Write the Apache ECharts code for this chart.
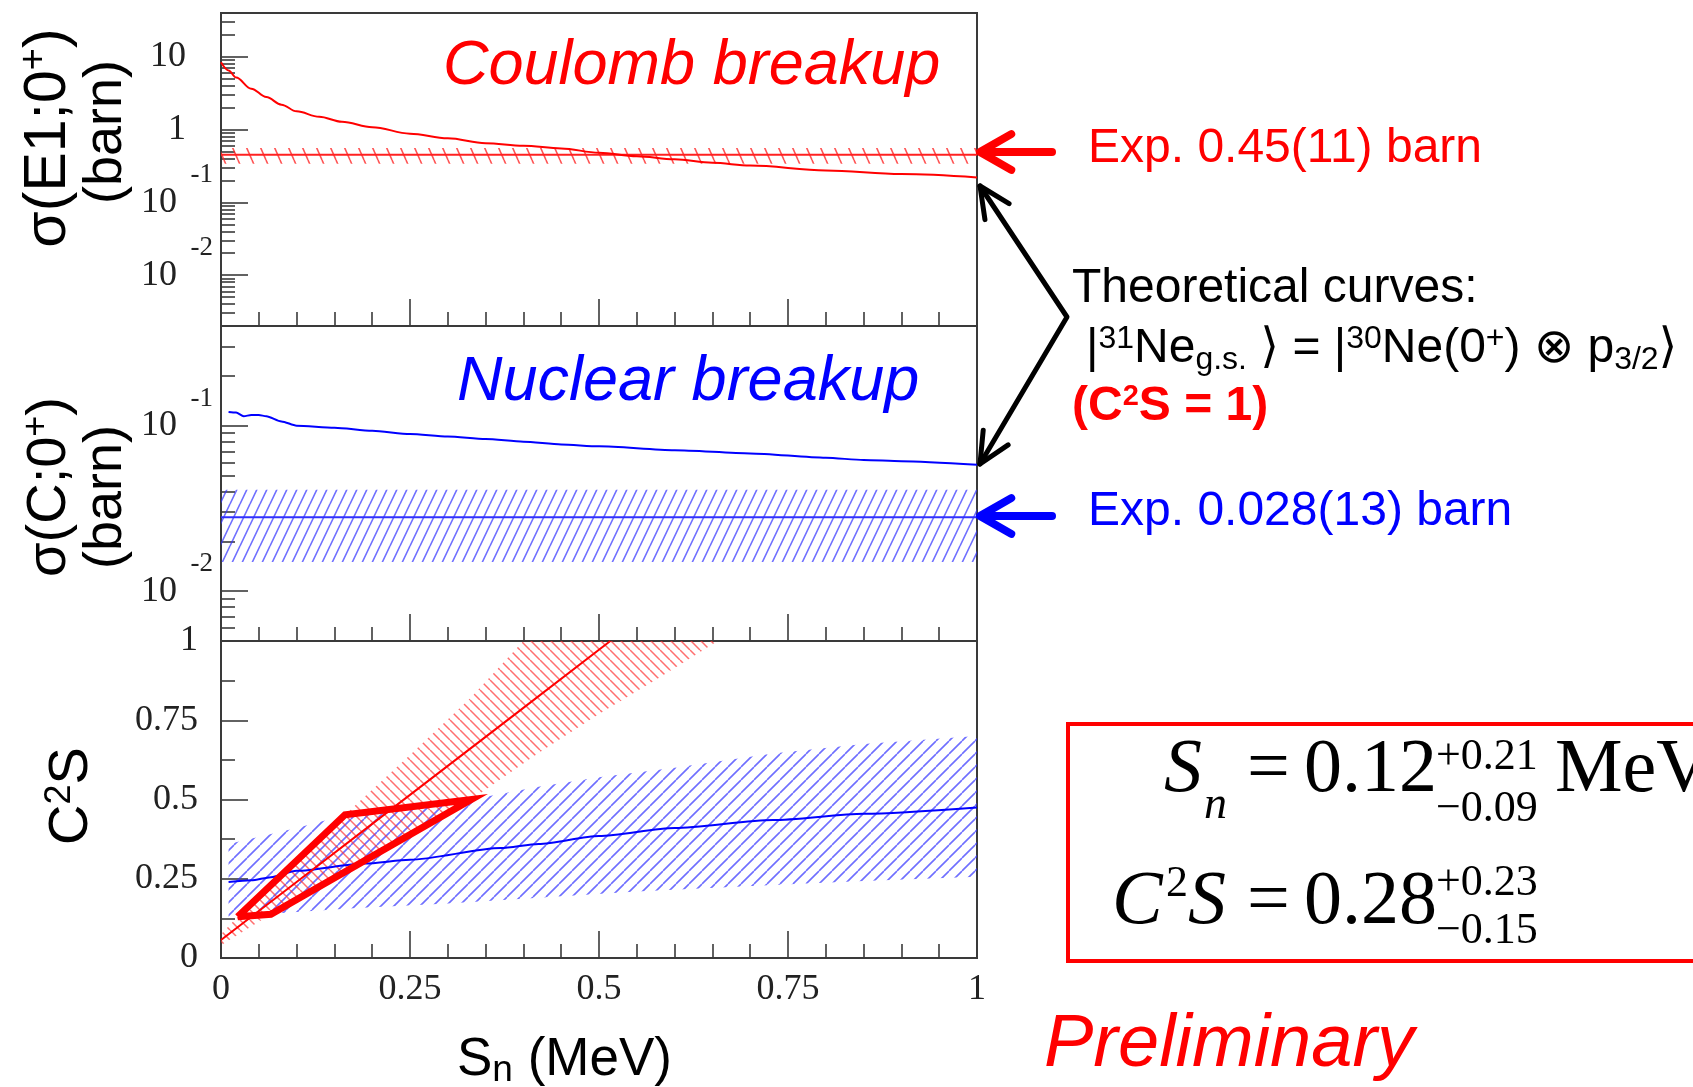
<!DOCTYPE html>
<html><head><meta charset="utf-8">
<script src="https://cdn.jsdelivr.net/npm/echarts@6/dist/echarts.min.js"></script>
<style>html,body{margin:0;padding:0;background:#fff}#c{width:1693px;height:1087px}</style>
</head><body><div id="c"></div><script>
// ---------------- DATA ----------------
const xTickValues = [0, 0.25, 0.5, 0.75, 1];
const xTickLabels = ['0', '0.25', '0.5', '0.75', '1'];

// Panel 1: sigma(E1;0+) [barn], log scale
const sig1Min = 0.002, sig1Max = 40;
const sig1MajorTicks = [0.01, 0.1, 1, 10];
const sig1TickBase = ['10', '10', '1', '10'];
const sig1TickExp = ['-2', '-1', '', ''];
const sig1MinorTicks = [0.003,0.004,0.005,0.006,0.007,0.008,0.009,
  0.02,0.03,0.04,0.05,0.06,0.07,0.08,0.09,
  0.2,0.3,0.4,0.5,0.6,0.7,0.8,0.9,
  2,3,4,5,6,7,8,9,20,30];
const coulSn = [0, 0.01, 0.02, 0.04, 0.06, 0.08, 0.10, 0.13, 0.16, 0.20, 0.25, 0.30, 0.35, 0.40, 0.45, 0.50, 0.55, 0.60, 0.65, 0.70, 0.80, 0.90, 1.00];
const coulSigma = [8.4, 6.5, 5.2, 3.65, 2.8, 2.2, 1.78, 1.5, 1.28, 1.08, 0.88, 0.76, 0.65, 0.60, 0.55, 0.48, 0.43, 0.39, 0.35, 0.32, 0.275, 0.245, 0.22];
const coulExp = 0.45, coulExpLow = 0.34, coulExpHigh = 0.56;

// Panel 2: sigma(C;0+) [barn], log scale
const sig2Min = 0.005, sig2Max = 0.4;
const sig2MajorTicks = [0.01, 0.1];
const sig2TickBase = ['10', '10'];
const sig2TickExp = ['-2', '-1'];
const sig2MinorTicks = [0.006,0.007,0.008,0.009,0.02,0.03,0.04,0.05,0.06,0.07,0.08,0.09,0.2,0.3];
const nucSn = [0.01, 0.02, 0.03, 0.04, 0.05, 0.06, 0.08, 0.10, 0.15, 0.20, 0.25, 0.30, 0.35, 0.40, 0.45, 0.50, 0.60, 0.70, 0.80, 0.85, 0.90, 1.00];
const nucSigma = [0.121, 0.120, 0.114, 0.116, 0.116, 0.114, 0.106, 0.100, 0.097, 0.093, 0.089, 0.086, 0.083, 0.080, 0.077, 0.075, 0.071, 0.068, 0.064, 0.062, 0.061, 0.058];
const nucExp = 0.028, nucExpLow = 0.015, nucExpHigh = 0.041;

// Panel 3: C2S vs Sn
const c2sTickValues = [0, 0.25, 0.5, 0.75, 1];
const c2sTickLabels = ['0', '0.25', '0.5', '0.75', '1'];
const redLineSn = [0, 0.1, 0.2, 0.3, 0.4, 0.515];
const redLineC = [0.057, 0.24, 0.423, 0.606, 0.789, 1.0];
const redUpperSn = [0, 0.022, 0.1, 0.164, 0.25, 0.33, 0.40];
const redUpperC = [0.075, 0.13, 0.305, 0.452, 0.64, 0.82, 1.0];
const redLowerSn = [0, 0.066, 0.2, 0.331, 0.42, 0.5, 0.58, 0.657];
const redLowerC = [0.04, 0.138, 0.315, 0.50, 0.647, 0.77, 0.885, 1.0];
const blueLineSn = [0.01, 0.04, 0.066, 0.1, 0.19, 0.25, 0.37, 0.42, 0.5, 0.6, 0.73, 0.85, 1.0];
const blueLineC = [0.24, 0.245, 0.255, 0.275, 0.298, 0.31, 0.347, 0.36, 0.385, 0.41, 0.435, 0.455, 0.475];
const blueUpperSn = [0.01, 0.1, 0.164, 0.25, 0.331, 0.42, 0.5, 0.6, 0.73, 0.85, 1.0];
const blueUpperC = [0.36, 0.41, 0.45, 0.475, 0.50, 0.54, 0.57, 0.60, 0.645, 0.675, 0.70];
const blueLowerSn = [0.01, 0.1, 0.18, 0.3, 0.42, 0.55, 0.73, 0.85, 1.0];
const blueLowerC = [0.13, 0.145, 0.158, 0.172, 0.19, 0.21, 0.23, 0.243, 0.256];
const overlapSn = [0.022, 0.066, 0.331, 0.164, 0.022];
const overlapC = [0.13, 0.138, 0.50, 0.452, 0.13];

// ---------------- helpers ----------------
const SERIF = "'Liberation Serif','Times New Roman',serif";
const SANS = "'Liberation Sans','DejaVu Sans',Arial,sans-serif";
const AX = '#3a3a3a';

function hatch(color, w, h, dir, lw) {
  const c = document.createElement('canvas'); c.width = w; c.height = h;
  const g = c.getContext('2d'); g.strokeStyle = color; g.lineWidth = lw;
  g.beginPath();
  for (let k = -1; k <= 1; k++) {
    if (dir === '/') { g.moveTo(k * w, h); g.lineTo(k * w + w, 0); }
    else { g.moveTo(k * w, 0); g.lineTo(k * w + w, h); }
  }
  g.stroke();
  return { image: c, repeat: 'repeat' };
}
const hatchRed1 = hatch('rgba(255,40,40,0.8)', 14, 32, '\\', 1.6);
const hatchBlue2 = hatch('rgba(50,50,255,0.7)', 10, 21, '/', 1.6);
const hatchRed3 = hatch('rgba(255,50,50,0.7)', 10, 10, '\\', 1.5);
const hatchBlue3 = hatch('rgba(50,50,255,0.7)', 13, 13, '/', 1.6);

function zip(xs, ys) { return xs.map((x, i) => [x, ys[i]]); }
function polySeries(xi, yi, pts, fill) {
  return {
    type: 'custom', xAxisIndex: xi, yAxisIndex: yi, clip: true, silent: true, data: pts,
    renderItem: (params, api) => {
      if (params.dataIndex !== 0) return null;
      const points = pts.map(p => api.coord(p));
      return { type: 'polygon', shape: { points }, style: { fill: fill, stroke: null } };
    }
  };
}
function bandPoints(ux, uy, lx, ly) {
  const up = zip(ux, uy); const lo = zip(lx, ly).reverse();
  return up.concat(lo);
}
function lineSeries(xi, yi, data, color, width, smooth) {
  return { type: 'line', xAxisIndex: xi, yAxisIndex: yi, data, symbol: 'none', silent: true,
    smooth: smooth || false, smoothMonotone: 'x',
    lineStyle: { color, width }, clip: true, z: 3 };
}
function findTick(ticks, v) {
  return ticks.findIndex(t => Math.abs(Math.log10(t) - Math.log10(v)) < 1e-6);
}

function xAxis(gi, showLabel) {
  return {
    type: 'value', gridIndex: gi, min: 0, max: 1, interval: 0.25,
    axisLine: { show: true, lineStyle: { color: AX, width: 2 } },
    axisTick: { show: true, inside: true, length: 27, lineStyle: { color: AX, width: 1.6 } },
    minorTick: { show: true, splitNumber: 5, length: 14, lineStyle: { color: AX, width: 1.6 } },
    splitLine: { show: false }, minorSplitLine: { show: false },
    axisLabel: { show: showLabel, margin: 14, fontFamily: SERIF, fontSize: 36, color: '#222', hideOverlap: false,
      showMinLabel: true, showMaxLabel: true,
      formatter: v => { const i = xTickValues.findIndex(t => Math.abs(t - v) < 1e-9); return i < 0 ? '' : xTickLabels[i]; } }
  };
}
// major ticks + base labels ("10", "1")
function logMajor(gi, min, max, ticks, bases, exps) {
  return {
    type: 'log', logBase: 10, gridIndex: gi, min, max, position: 'left',
    axisLine: { show: true, lineStyle: { color: AX, width: 2 } },
    axisTick: { show: true, inside: true, length: 27, customValues: ticks, lineStyle: { color: AX, width: 1.6 } },
    minorTick: { show: false }, splitLine: { show: false },
    axisLabel: { show: true, customValues: ticks, margin: 8, hideOverlap: false, showMinLabel: true, showMaxLabel: true,
      formatter: v => { const i = findTick(ticks, v); if (i < 0) return ''; return (exps[i] ? '{b|' : '{p|') + bases[i] + '}'; },
      rich: {
        p: { fontFamily: SERIF, fontSize: 36, lineHeight: 36, color: '#222', padding: [0, 27, 0, 0] },
        b: { fontFamily: SERIF, fontSize: 36, lineHeight: 36, color: '#222', padding: [0, 36, 0, 0] }
      } }
  };
}
// exponent labels ("-1", "-2") placed above-right of the base
function logExp(gi, min, max, ticks, exps) {
  const expTicks = ticks.filter((t, i) => exps[i]);
  return {
    type: 'log', logBase: 10, gridIndex: gi, min, max, position: 'left',
    axisLine: { show: false }, axisTick: { show: false }, minorTick: { show: false }, splitLine: { show: false },
    axisLabel: { show: true, customValues: expTicks, margin: 8, hideOverlap: false, showMinLabel: true, showMaxLabel: true,
      fontFamily: SERIF, fontSize: 27, color: '#222', verticalAlign: 'bottom', lineHeight: 54,
      formatter: v => { const i = findTick(ticks, v); return i < 0 ? '' : exps[i]; } }
  };
}
function logMinor(gi, min, max, ticks) {
  return {
    type: 'log', logBase: 10, gridIndex: gi, min, max, position: 'left',
    axisLine: { show: false },
    axisTick: { show: true, inside: true, length: 14, customValues: ticks, lineStyle: { color: AX, width: 1.6 } },
    minorTick: { show: false }, splitLine: { show: false }, axisLabel: { show: false }
  };
}

// ---------------- graphics ----------------
function txt(x, y, text, font, fill, extra) {
  return Object.assign({ type: 'text', x, y, silent: true, z: 100,
    style: Object.assign({ legacy: false, text, font, fill, align: 'left', verticalAlign: 'middle' }, extra || {}) });
}
function rtxt(x, y, text, fontSize, rich) {
  return { type: 'text', x, y, rotation: Math.PI / 2, silent: true, z: 100,
    style: { legacy: false, text, fontSize, fontFamily: SANS, fill: '#000', align: 'center', verticalAlign: 'middle', rich: rich || {} } };
}
function arrowHead(tip, from, len, ang) {
  const dx = from[0] - tip[0], dy = from[1] - tip[1];
  const a = Math.atan2(dy, dx);
  return [[tip[0] + len * Math.cos(a + ang), tip[1] + len * Math.sin(a + ang)], tip,
          [tip[0] + len * Math.cos(a - ang), tip[1] + len * Math.sin(a - ang)]];
}
function pline(points, color, width) {
  return { type: 'polyline', silent: true, z: 100, shape: { points },
    style: { stroke: color, lineWidth: width, fill: null, lineCap: 'round', lineJoin: 'round' } };
}
const supR = (fs, shift, extra) => Object.assign({ fontSize: fs, fontFamily: SANS, padding: [0, 0, 2 * shift, 0] }, extra || {});
const subR = (fs, shift, extra) => Object.assign({ fontSize: fs, fontFamily: SANS, padding: [2 * shift, 0, 0, 0] }, extra || {});

const blackTop = [980, 186], blackMid = [1067, 317], blackBot = [980, 464];
const graphics = [
  rtxt(49, 138, 'σ(E1;0{s|+})', 59, { s: supR(38, 14) }),
  rtxt(106, 132, '(barn)', 54),
  rtxt(50, 487, 'σ(C;0{s|+})', 56, { s: supR(36, 13) }),
  rtxt(106, 497, '(barn)', 54),
  rtxt(72, 796, 'C{s|2}S', 56, { s: supR(36, 12) }),
  txt(457, 1060, 'S{s|n} (MeV)', '53px ' + SANS, '#000', { rich: { s: subR(37, 11) } }),

  txt(443, 66, 'Coulomb breakup', 'italic 63px ' + SANS, '#ff0000'),
  txt(457, 382, 'Nuclear breakup', 'italic 63px ' + SANS, '#0000ff'),
  txt(1088, 149, 'Exp. 0.45(11) barn', '48px ' + SANS, '#ff0000'),
  txt(1088, 512, 'Exp. 0.028(13) barn', '48px ' + SANS, '#0000ff'),
  txt(1072, 289, 'Theoretical curves:', '48px ' + SANS, '#000'),
  txt(1086, 349, '|{sup|31}Ne{sub|g.s.} ⟩ = |{sup|30}Ne(0{sup|+}) ⊗ p{sub|3/2}⟩', '48px ' + SANS, '#000',
    { rich: { sup: supR(32, 10), sub: subR(32, 11) } }),
  txt(1072, 407, '(C{s|2}S = 1)', 'bold 48px ' + SANS, '#ff0000', { rich: { s: supR(29, 10, { fontWeight: 'bold' }) } }),
  txt(1044, 1045, 'Preliminary', 'italic 74px ' + SANS, '#ff0000'),

  // red arrow
  pline([[1052, 152], [982, 152]], '#ff0000', 8),
  pline(arrowHead([980, 152], [1052, 152], 36, 0.52), '#ff0000', 8),
  // blue arrow
  pline([[1052, 516], [982, 516]], '#0000ff', 8),
  pline(arrowHead([980, 516], [1052, 516], 36, 0.52), '#0000ff', 8),
  // black double arrow
  pline([blackTop, blackMid, blackBot], '#000', 5),
  pline(arrowHead(blackTop, blackMid, 34, 0.44), '#000', 5),
  pline(arrowHead(blackBot, blackMid, 34, 0.44), '#000', 5),

  // formula box
  { type: 'rect', silent: true, z: 90, shape: { x: 1068, y: 724, width: 700, height: 237 },
    style: { fill: '#fff', stroke: '#ff0000', lineWidth: 4 } },
  txt(1164, 771, 'S', 'italic 76px ' + SERIF, '#000'),
  txt(1204, 806, 'n', 'italic 46px ' + SERIF, '#000'),
  txt(1247, 771, '=', '76px ' + SERIF, '#000'),
  txt(1304, 771, '0.12', '76px ' + SERIF, '#000'),
  txt(1436, 757, '+0.21', '44px ' + SERIF, '#000'),
  txt(1436, 809, '−0.09', '44px ' + SERIF, '#000'),
  txt(1555, 771, 'MeV', '76px ' + SERIF, '#000'),
  txt(1112, 903, 'C', 'italic 76px ' + SERIF, '#000'),
  txt(1166, 884, '2', '44px ' + SERIF, '#000'),
  txt(1188, 903, 'S', 'italic 76px ' + SERIF, '#000'),
  txt(1247, 903, '=', '76px ' + SERIF, '#000'),
  txt(1304, 903, '0.28', '76px ' + SERIF, '#000'),
  txt(1436, 883, '+0.23', '44px ' + SERIF, '#000'),
  txt(1436, 931, '−0.15', '44px ' + SERIF, '#000')
];

// ---------------- chart ----------------
const gridBase = { left: 221, width: 756, show: true, borderColor: AX, borderWidth: 2, backgroundColor: 'transparent', containLabel: false, outerBoundsMode: 'none' };
const option = {
  animation: false,
  backgroundColor: '#ffffff',
  grid: [
    Object.assign({ top: 13, height: 313 }, gridBase),
    Object.assign({ top: 326, height: 315 }, gridBase),
    Object.assign({ top: 641, height: 317 }, gridBase)
  ],
  xAxis: [xAxis(0, false), xAxis(1, false), xAxis(2, true)],
  yAxis: [
    logMajor(0, sig1Min, sig1Max, sig1MajorTicks, sig1TickBase, sig1TickExp),   // 0
    logMinor(0, sig1Min, sig1Max, sig1MinorTicks),                              // 1
    logMajor(1, sig2Min, sig2Max, sig2MajorTicks, sig2TickBase, sig2TickExp),   // 2
    logMinor(1, sig2Min, sig2Max, sig2MinorTicks),                              // 3
    {                                                                           // 4
      type: 'value', gridIndex: 2, min: 0, max: 1, interval: 0.25, position: 'left',
      axisLine: { show: true, lineStyle: { color: AX, width: 2 } },
      axisTick: { show: true, inside: true, length: 27, lineStyle: { color: AX, width: 1.6 } },
      minorTick: { show: true, splitNumber: 2, length: 14, lineStyle: { color: AX, width: 1.6 } },
      splitLine: { show: false }, minorSplitLine: { show: false },
      axisLabel: { margin: 23, fontFamily: SERIF, fontSize: 36, color: '#222', hideOverlap: false,
        showMinLabel: true, showMaxLabel: true,
        formatter: v => { const i = c2sTickValues.findIndex(t => Math.abs(t - v) < 1e-9); return i < 0 ? '' : c2sTickLabels[i]; } }
    },
    logExp(0, sig1Min, sig1Max, sig1MajorTicks, sig1TickExp),                   // 5
    logExp(1, sig2Min, sig2Max, sig2MajorTicks, sig2TickExp)                    // 6
  ],
  series: [
    // panel 1
    polySeries(0, 0, [[0, coulExpLow], [1, coulExpLow], [1, coulExpHigh], [0, coulExpHigh]], hatchRed1),
    lineSeries(0, 0, [[0, coulExp], [1, coulExp]], '#ff2020', 2),
    lineSeries(0, 0, zip(coulSn, coulSigma), '#ff0000', 2, 0.35),
    // panel 2
    polySeries(1, 2, [[0, nucExpLow], [1, nucExpLow], [1, nucExpHigh], [0, nucExpHigh]], hatchBlue2),
    lineSeries(1, 2, [[0, nucExp], [1, nucExp]], '#3030ff', 2),
    lineSeries(1, 2, zip(nucSn, nucSigma), '#0000ff', 2, 0.25),
    // panel 3
    polySeries(2, 4, bandPoints(blueUpperSn, blueUpperC, blueLowerSn, blueLowerC), hatchBlue3),
    polySeries(2, 4, bandPoints(redUpperSn, redUpperC, redLowerSn, redLowerC), hatchRed3),
    lineSeries(2, 4, zip(blueLineSn, blueLineC), '#0000ff', 2, 0.25),
    lineSeries(2, 4, zip(redLineSn, redLineC), '#ff0000', 2),
    Object.assign(lineSeries(2, 4, zip(overlapSn, overlapC), '#ff0000', 7), { z: 5, lineStyle: { color: '#ff0000', width: 7, join: 'miter' } })
  ],
  graphic: { elements: graphics }
};
const chart = echarts.init(document.getElementById('c'), null, { renderer: 'canvas' });
chart.setOption(option);
</script></body></html>
